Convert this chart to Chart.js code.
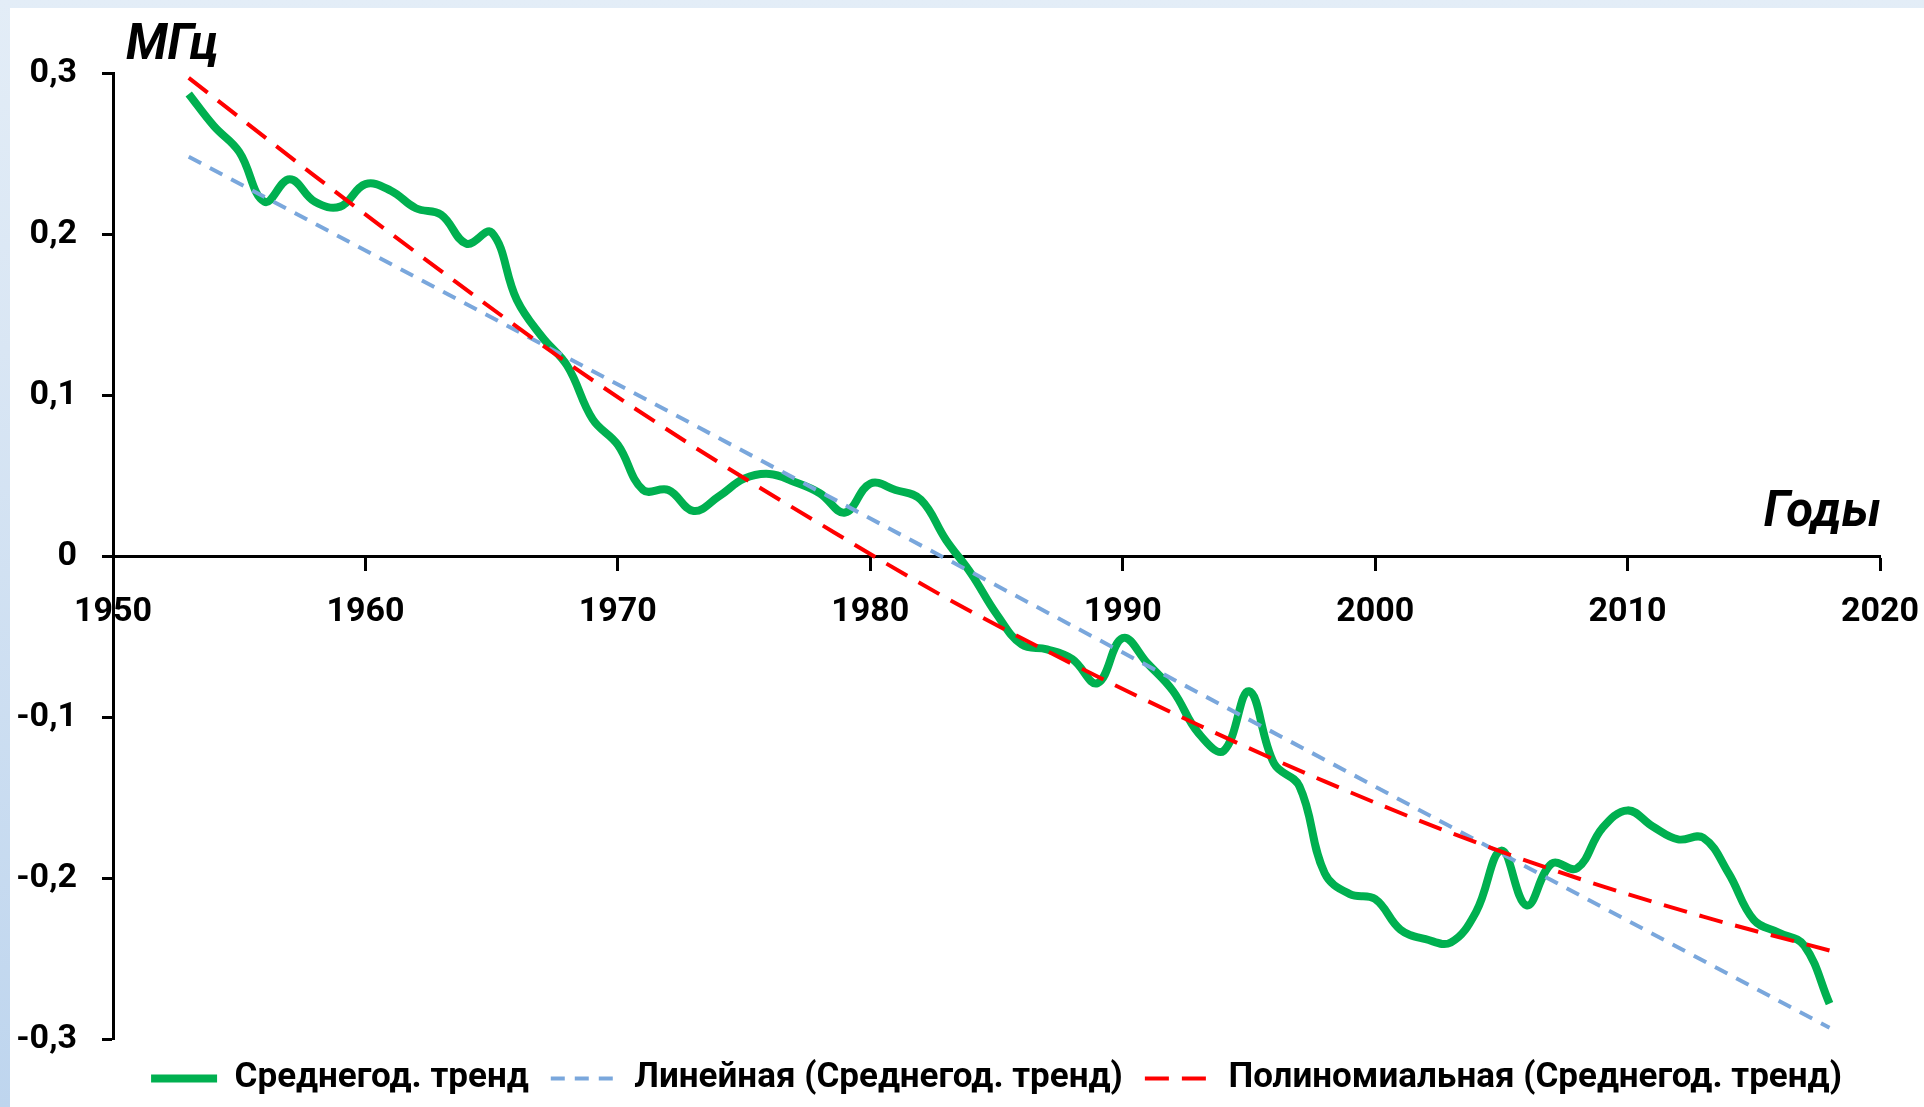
<!DOCTYPE html>
<html lang="ru">
<head>
<meta charset="utf-8">
<title>Среднегодовой тренд, МГц</title>
<script src="https://cdn.jsdelivr.net/npm/chart.js@4.4.1/dist/chart.umd.min.js"></script>
<style>
  html, body { margin: 0; padding: 0; overflow: hidden; }
  body {
    width: 1924px; height: 1107px;
    background: linear-gradient(to bottom, #e3edf7 0px, #d9e6f4 350px, #bed5ee 1107px);
  }
  #box { position: absolute; left: 10px; top: 8px; width: 1914px; height: 1099px; background: #fff; }
</style>
</head>
<body>
<div id="box"><canvas id="trend"></canvas></div>

<script>
// years of the annual series
var years = [1953, 1954, 1955, 1956, 1957, 1958, 1959, 1960, 1961, 1962,
             1963, 1964, 1965, 1966, 1967, 1968, 1969, 1970, 1971, 1972,
             1973, 1974, 1975, 1976, 1977, 1978, 1979, 1980, 1981, 1982,
             1983, 1984, 1985, 1986, 1987, 1988, 1989, 1990, 1991, 1992,
             1993, 1994, 1995, 1996, 1997, 1998, 1999, 2000, 2001, 2002,
             2003, 2004, 2005, 2006, 2007, 2008, 2009, 2010, 2011, 2012,
             2013, 2014, 2015, 2016, 2017, 2018];

// среднегодовой тренд, MHz
var trend = [0.287, 0.267, 0.251, 0.220, 0.234, 0.220, 0.217, 0.231, 0.227, 0.216,
             0.212, 0.194, 0.201, 0.159, 0.136, 0.118, 0.085, 0.069, 0.041, 0.041,
             0.028, 0.037, 0.048, 0.051, 0.046, 0.039, 0.027, 0.045, 0.041, 0.035,
             0.010, -0.011, -0.036, -0.055, -0.058, -0.064, -0.079, -0.051, -0.067, -0.084,
             -0.110, -0.121, -0.084, -0.129, -0.143, -0.197, -0.210, -0.213, -0.232, -0.238,
             -0.240, -0.221, -0.183, -0.217, -0.191, -0.194, -0.169, -0.158, -0.168, -0.176,
             -0.175, -0.197, -0.226, -0.234, -0.242, -0.278];

// linear trend line (end points as read)
var linYears = [1953, 2018];
var linValues = [0.248, -0.293];

// polynomial trend line (read every 5 years)
var polyYears = [1953, 1958, 1963, 1968, 1973, 1978, 1983, 1988, 1993, 1998, 2003, 2008, 2013, 2018];
var polyValues = [0.297, 0.236, 0.177, 0.120, 0.068, 0.020, -0.026, -0.067, -0.105, -0.140, -0.172, -0.200, -0.224, -0.245];

var xTicks = [1950, 2020, 10];
var yTicks = [-0.3, 0.3, 0.1];

var seriesNames = ['Среднегод. тренд', 'Линейная (Среднегод. тренд)', 'Полиномиальная (Среднегод. тренд)'];
var yTitle = 'МГц';
var xTitle = 'Годы';

function pts(xs, ys) {
  return xs.map(function (x, i) { return { x: x, y: ys[i] }; });
}

var FONT = 'Roboto';

// axis captions written on the canvas
var axisTitles = {
  id: 'axisTitles',
  afterDraw: function (chart) {
    var ctx = chart.ctx, area = chart.chartArea;
    ctx.save();
    ctx.fillStyle = '#000';
    ctx.textBaseline = 'alphabetic';
    ctx.font = 'italic bold 49px ' + FONT;
    ctx.textAlign = 'left';
    ctx.fillText(yTitle, area.left + 13, area.top - 14);
    ctx.textAlign = 'right';
    ctx.fillText(xTitle, area.right + 1, chart.scales.y.getPixelForValue(0) - 30);
    ctx.restore();
  }
};

Chart.defaults.font.family = FONT;
Chart.defaults.color = '#000';

new Chart(document.getElementById('trend'), {
  type: 'line',
  data: {
    datasets: [{
      label: seriesNames[0],
      data: pts(years, trend),
      borderColor: '#00b050',
      borderWidth: 8,
      tension: 0.4,
      pointRadius: 0,
      order: 3
    }, {
      label: seriesNames[1],
      data: pts(linYears, linValues),
      borderColor: '#7aa7dc',
      borderWidth: 4,
      borderDash: [14, 10],
      pointRadius: 0,
      order: 2
    }, {
      label: seriesNames[2],
      data: pts(polyYears, polyValues),
      borderColor: '#ff0000',
      borderWidth: 4,
      borderDash: [24, 13],
      cubicInterpolationMode: 'monotone',
      pointRadius: 0,
      order: 1
    }]
  },
  options: {
    responsive: true,
    maintainAspectRatio: false,
    animation: false,
    layout: { padding: { left: 0, right: 44, top: 65, bottom: 1 } },
    plugins: {
      tooltip: { enabled: false },
      legend: {
        position: 'bottom',
        fullSize: false,
        labels: {
          font: { size: 35, weight: 'bold' },
          color: '#000',
          padding: 22,
          usePointStyle: true,
          pointStyle: 'line',
          pointStyleWidth: 66,
          sort: function (a, b) { return a.datasetIndex - b.datasetIndex; },
          // keep each series' own stroke (width, dash) in the legend sample
          generateLabels: function (chart) {
            var items = Chart.defaults.plugins.legend.labels.generateLabels(chart);
            items.forEach(function (it) {
              var ds = chart.data.datasets[it.datasetIndex];
              it.lineWidth = ds.borderWidth;
              it.lineDash = ds.borderDash || [];
              it.strokeStyle = ds.borderColor;
            });
            return items;
          }
        }
      }
    },
    scales: {
      x: {
        type: 'linear',
        position: { y: 0 },
        min: xTicks[0],
        max: xTicks[1],
        afterFit: function (s) { s.height = 0; s.paddingLeft = 0; s.paddingRight = 0; },
        grid: { drawOnChartArea: false, drawTicks: true, tickLength: 13, tickWidth: 3, tickColor: '#000', color: '#000' },
        border: { display: true, color: '#000', width: 3 },
        ticks: {
          stepSize: xTicks[2],
          autoSkip: false,
          maxRotation: 0,
          padding: 23,
          font: { size: 34, weight: 'bold' },
          callback: function (v) { return String(v); }
        }
      },
      y: {
        type: 'linear',
        position: 'left',
        min: yTicks[0],
        max: yTicks[1],
        afterFit: function (s) { s.width = 103; },
        grid: { drawOnChartArea: false, drawTicks: true, tickLength: 11, tickWidth: 3, tickColor: '#000', color: '#000' },
        border: { display: true, color: '#000', width: 3 },
        ticks: {
          stepSize: yTicks[2],
          padding: 25,
          font: { size: 34, weight: 'bold' },
          callback: function (v) {
            var r = Math.round(v * 10) / 10;
            return r === 0 ? '0' : r.toFixed(1).replace('.', ',');
          }
        }
      }
    }
  },
  plugins: [axisTitles]
});
</script>
</body>
</html>
